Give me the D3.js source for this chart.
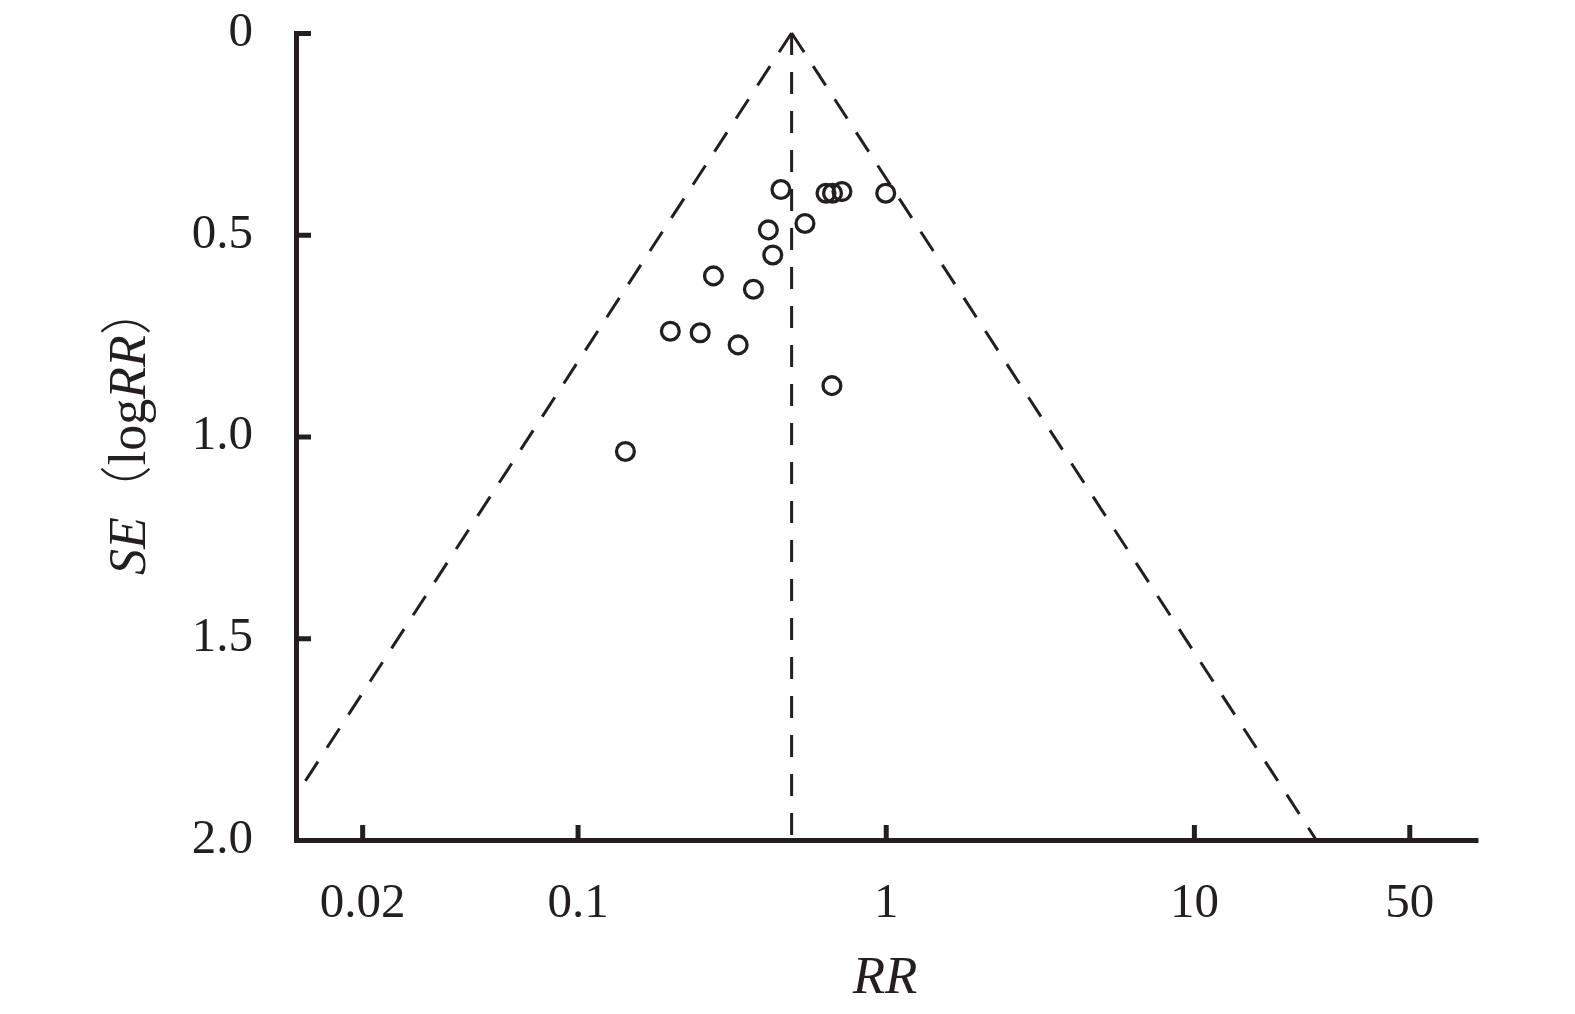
<!DOCTYPE html>
<html>
<head>
<meta charset="utf-8">
<script src="https://cdn.jsdelivr.net/npm/d3@7"></script>
<style>
  html, body { margin: 0; padding: 0; background: #fff; }
  svg { display: block; }
</style>
</head>
<body>
<svg id="chart" width="1575" height="1014"></svg>
<script>
// ---- data ----
const studyRR = [0.457, 0.640, 0.672, 0.721, 1.0, 0.547, 0.416, 0.430, 0.276, 0.372, 0.200, 0.250, 0.332, 0.669, 0.143];
const studySE = [0.388, 0.397, 0.397, 0.393, 0.397, 0.472, 0.488, 0.550, 0.602, 0.635, 0.739, 0.743, 0.773, 0.874, 1.037];
const pooledRR = 0.495;
const xTickValues = [0.02, 0.1, 1, 10, 50];
const xTickLabels = ["0.02", "0.1", "1", "10", "50"];
const yTickValues = [0, 0.5, 1.0, 1.5, 2.0];
const yTickLabels = ["0", "0.5", "1.0", "1.5", "2.0"];

// ---- layout ----
const ink = "#231f20";
const serif = "'Liberation Serif', 'Times New Roman', serif";
const svg = d3.select("#chart");
svg.append("rect").attr("width", 1575).attr("height", 1014).attr("fill", "#fff");

const x = d3.scaleLog().domain([0.0122, 82]).range([296, 1475.5]);
const y = d3.scaleLinear().domain([0, 2]).range([33, 840]);

// clip for funnel lines
svg.append("defs").append("clipPath").attr("id", "plotclip")
  .append("rect").attr("x", 304).attr("y", 0).attr("width", 1475.5 - 304).attr("height", 840);

const g = svg.append("g");

// funnel lines
const z = 1.96;
const seMax = 2;
const lineGen = d3.line().x(d => x(d[0])).y(d => y(d[1]));
const funnel = g.append("g").attr("clip-path", "url(#plotclip)")
  .attr("fill", "none").attr("stroke", ink).attr("stroke-width", 3)
  .attr("stroke-dasharray", "23,16.5");
funnel.append("path").attr("d", lineGen([[pooledRR, 0], [pooledRR * Math.exp(-z * seMax), seMax]]));
funnel.append("path").attr("d", lineGen([[pooledRR, 0], [pooledRR * Math.exp(z * seMax), seMax]]));
funnel.append("path").attr("d", lineGen([[pooledRR, 0], [pooledRR, seMax]]))
  .attr("stroke-dasharray", "22,17");

// points
g.append("g").selectAll("circle")
  .data(studyRR.map((r, i) => [r, studySE[i]]))
  .join("circle")
  .attr("cx", d => x(d[0]))
  .attr("cy", d => y(d[1]))
  .attr("r", 8.9)
  .attr("fill", "none")
  .attr("stroke", ink)
  .attr("stroke-width", 3.3);

// axes
const yAxis = d3.axisLeft(y)
  .tickValues(yTickValues)
  .tickFormat((d, i) => yTickLabels[i])
  .tickSizeInner(-15).tickSizeOuter(0).tickPadding(43);
const yg = svg.append("g").attr("transform", "translate(296,0)").call(yAxis);

const xAxis = d3.axisBottom(x)
  .tickValues(xTickValues)
  .tickFormat((d, i) => xTickLabels[i])
  .tickSizeInner(-15).tickSizeOuter(0).tickPadding(42);
const xg = svg.append("g").attr("transform", "translate(0,840)").call(xAxis);

[yg, xg].forEach(a => {
  a.select(".domain").attr("stroke", ink).attr("stroke-width", 5).attr("stroke-linecap", "square");
  a.selectAll(".tick line").attr("stroke", ink).attr("stroke-width", 5);
  a.selectAll(".tick text").attr("fill", ink).attr("font-family", serif).attr("font-size", 49);
});
yg.selectAll(".tick text").attr("dy", "0.25em");

// axis titles
svg.append("text")
  .attr("x", 885).attr("y", 993)
  .attr("text-anchor", "middle")
  .attr("font-family", serif).attr("font-size", 53).attr("font-style", "italic")
  .attr("fill", ink)
  .text("RR");

const yt = svg.append("text")
  .attr("transform", "translate(145,575) rotate(-90)")
  .attr("font-family", serif).attr("font-size", 52).attr("fill", ink);
yt.append("tspan").attr("font-style", "italic").text("SE");
yt.append("tspan").attr("font-family", "'Noto Sans CJK SC'").attr("font-weight", 300).text("（");
yt.append("tspan").text("log");
yt.append("tspan").attr("font-style", "italic").text("RR");
yt.append("tspan").attr("font-family", "'Noto Sans CJK SC'").attr("font-weight", 300).text("）");
</script>
</body>
</html>
